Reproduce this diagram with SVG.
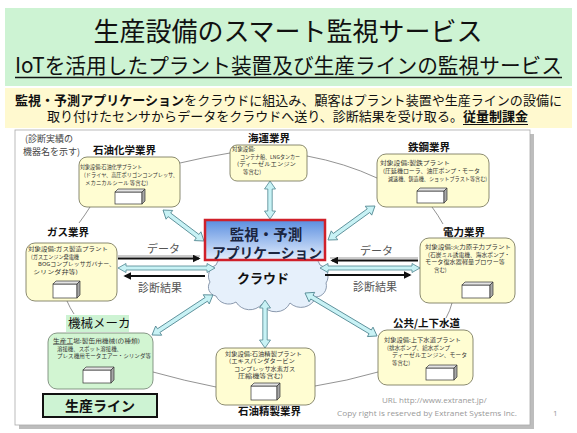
<svg xmlns="http://www.w3.org/2000/svg" width="577" height="433" viewBox="0 0 577 433">
<defs>
<style>
text{font-family:"Noto Sans CJK JP","Noto Sans",sans-serif}
.box{fill:#fffdd2;stroke:#6d6d50;stroke-width:0.8}
.gbox{fill:#d2f5d2;stroke:#6d7d6d;stroke-width:0.8}
.s{font-size:5.4px;fill:#333}
.lbl{font-size:10.5px;font-weight:bold;fill:#111}
.arc{fill:none;stroke:#777;stroke-width:0.8}
.dbl{fill:#c8f2f5;stroke:#4f8590;stroke-width:0.8}
.blk{stroke:#111;stroke-width:2;fill:none}
.shd{stroke:#999;stroke-width:1;fill:none}
.cf{fill:#fff;stroke:#333;stroke-width:0.7}
.ct{fill:#e4e4e4;stroke:#333;stroke-width:0.7}
.cs{fill:#a8a8a8;stroke:#333;stroke-width:0.7}
.cap{font-size:11px;fill:#555}
.foot{font-family:"Open Sans","Liberation Sans",sans-serif;font-size:8px;fill:#999}
</style>
<linearGradient id="appg" x1="0" y1="0" x2="0" y2="1">
<stop offset="0" stop-color="#5a8ee0"/>
<stop offset="1" stop-color="#e4eefc"/>
</linearGradient>
<marker id="ah" viewBox="0 0 10 10" refX="8" refY="5" markerWidth="4" markerHeight="4" orient="auto" markerUnits="strokeWidth">
<path d="M0,0 L10,5 L0,10 z" fill="#111"/>
</marker>
</defs>

<g id="header">
<rect x="5" y="8" width="567" height="78" fill="#cdf3d3"/>
<text x="288" y="41" font-size="26" text-anchor="middle" fill="#111">生産設備のスマート監視サービス</text>
<text x="15" y="73" font-size="21" fill="#111" textLength="547" lengthAdjust="spacingAndGlyphs">IoTを活用したプラント装置及び生産ラインの監視サービス</text>
<line x1="15" y1="77.5" x2="562" y2="77.5" stroke="#111" stroke-width="1.5"/>
<rect x="5" y="88" width="567" height="40" fill="#fff9cf"/>
<text x="15" y="105" font-size="13" fill="#111" textLength="547" lengthAdjust="spacingAndGlyphs"><tspan font-weight="bold">監視・予測アプリケーション</tspan>をクラウドに組込み、顧客はプラント装置や生産ラインの設備に</text>
<text x="47" y="121" font-size="13" fill="#111" textLength="481" lengthAdjust="spacingAndGlyphs">取り付けたセンサからデータをクラウドへ送り、診断結果を受け取る。<tspan font-weight="bold">従量制課金</tspan></text>
<line x1="463" y1="124.5" x2="528" y2="124.5" stroke="#111" stroke-width="1"/>
</g>

<g id="frame">
<rect x="19" y="134" width="515" height="295" fill="#bdbdbd"/>
<rect x="15" y="130" width="515" height="295" fill="#fff" stroke="#aaa" stroke-width="0.8"/>
</g>

<g id="ring">
<path class="arc" d="M180,163 Q205,157 230,153"/>
<path class="arc" d="M307,156 Q345,163 377,178"/>
<path class="arc" d="M432,207 Q438,215 443,224"/>
<path class="arc" d="M452,303 Q450,311 446,318"/>
<path class="arc" d="M378,372 Q347,381 315,386"/>
<path class="arc" d="M153,372 Q185,381 216,387"/>
<path class="arc" d="M67,301 Q70,308 74,314"/>
<path class="arc" d="M90,207 Q85,215 79,223"/>
</g>

<g id="cloud">
<path d="M210,282 A12,12 0 0 1 216,265 A16,16 0 0 1 240,257 A18,18 0 0 1 268,254 A18,18 0 0 1 296,257 A16,16 0 0 1 320,265 A12,12 0 0 1 326,283 A11,11 0 0 1 316,297 A16,16 0 0 1 290,303 A16,16 0 0 1 262,304 A16,16 0 0 1 236,302 A14,14 0 0 1 216,296 A9,9 0 0 1 210,282 Z" fill="#e6f0fb" stroke="#7f8ea5" stroke-width="0.9"/>
<text x="263" y="283" font-size="13" font-weight="bold" text-anchor="middle" fill="#111">クラウド</text>
</g>

<g id="connectors">
<path class="dbl" transform="translate(163,210) rotate(37.1)" d="M0,0 L8,-5.5 L8,-2.2 L43.4,-2.2 L43.4,-5.5 L51.4,0 L43.4,5.5 L43.4,2.2 L8,2.2 L8,5.5 Z"/>
<path class="dbl" transform="translate(270,181) rotate(90)" d="M0,0 L8,-5.5 L8,-2.2 L30,-2.2 L30,-5.5 L38,0 L30,5.5 L30,2.2 L8,2.2 L8,5.5 Z"/>
<path class="dbl" transform="translate(328,240) rotate(-35.9)" d="M0,0 L8,-5.5 L8,-2.2 L50,-2.2 L50,-5.5 L58,0 L50,5.5 L50,2.2 L8,2.2 L8,5.5 Z"/>
<path class="dbl" transform="translate(152,335) rotate(-33.3)" d="M0,0 L8,-5.5 L8,-2.2 L64.9,-2.2 L64.9,-5.5 L72.9,0 L64.9,5.5 L64.9,2.2 L8,2.2 L8,5.5 Z"/>
<path class="dbl" transform="translate(265,300) rotate(90)" d="M0,0 L8,-5.5 L8,-2.2 L40,-2.2 L40,-5.5 L48,0 L40,5.5 L40,2.2 L8,2.2 L8,5.5 Z"/>
<path class="dbl" transform="translate(305,293) rotate(30.8)" d="M0,0 L8,-5.5 L8,-2.2 L75.9,-2.2 L75.9,-5.5 L83.9,0 L75.9,5.5 L75.9,2.2 L8,2.2 L8,5.5 Z"/>
<path class="dbl" transform="translate(118,268)" d="M0,0 L8,-4.5 L8,-2 L89,-2 L89,-4.5 L97,0 L89,4.5 L89,2 L8,2 L8,4.5 Z"/>
<path class="dbl" transform="translate(320,268)" d="M0,0 L8,-4.5 L8,-2 L92,-2 L92,-4.5 L100,0 L92,4.5 L92,2 L8,2 L8,4.5 Z"/>
<line class="shd" x1="118" y1="256" x2="200" y2="256"/>
<line class="blk" x1="118" y1="258.5" x2="199" y2="258.5" marker-end="url(#ah)"/>
<line class="blk" x1="205" y1="276" x2="125" y2="276" marker-end="url(#ah)"/>
<line class="shd" x1="418" y1="258" x2="330" y2="258"/>
<line class="blk" x1="418" y1="260.5" x2="332" y2="260.5" marker-end="url(#ah)"/>
<line class="blk" x1="325" y1="275" x2="410" y2="275" marker-end="url(#ah)"/>
<text class="cap" x="147" y="253">データ</text>
<text class="cap" x="138" y="292">診断結果</text>
<text class="cap" x="360" y="255">データ</text>
<text class="cap" x="353" y="291">診断結果</text>
</g>

<g id="app">
<rect x="205" y="220" width="120" height="40" fill="url(#appg)" stroke="#d0202a" stroke-width="2.5"/>
<text x="266" y="240" font-size="14.5" font-weight="bold" text-anchor="middle" fill="#1a2540">監視・予測</text>
<text x="212" y="257.5" font-size="14" font-weight="bold" fill="#1a2540" textLength="110" lengthAdjust="spacingAndGlyphs">アプリケーション</text>
</g>

<g id="note">
<text x="25" y="142" font-size="9" fill="#444">(診断実績の</text>
<text x="23" y="155" font-size="9" fill="#444">機器名を示す)</text>
</g>

<g id="petrochem">
<text class="lbl" x="93" y="154">石油化学業界</text>
<rect class="box" x="79" y="157" width="101" height="50" rx="8"/>
<text class="s" x="80" y="169" textLength="62" lengthAdjust="spacingAndGlyphs">対象設備:石油化学プラント</text>
<text class="s" x="84" y="177" textLength="94" lengthAdjust="spacingAndGlyphs">(ドライヤ、高圧ポリゴンコンプレッサ、</text>
<text class="s" x="85" y="184.5" textLength="63" lengthAdjust="spacingAndGlyphs">メカニカルシール 等含む)</text>
<rect class="cf" x="115" y="192" width="27" height="12"/>
<path class="ct" d="M115,192 L118,189 L145,189 L142,192 Z"/>
<path class="cs" d="M142,192 L145,189 L145,201 L142,204 Z"/>
</g>

<g id="shipping">
<text class="lbl" x="248" y="142">海運業界</text>
<rect class="box" x="230" y="145" width="77" height="36" rx="7"/>
<text class="s" x="232" y="151">対象設備:</text>
<text class="s" x="240" y="158.5" textLength="60" lengthAdjust="spacingAndGlyphs">コンテナ船、LNGタンカー</text>
<text class="s" x="237" y="166" textLength="59" lengthAdjust="spacingAndGlyphs">(ディーゼルエンジン</text>
<text class="s" x="243" y="174">等含む)</text>
</g>

<g id="steel">
<text class="lbl" x="408" y="151">鉄鋼業界</text>
<rect class="box" x="377" y="154" width="112" height="53" rx="9"/>
<text class="s" x="380" y="165" textLength="70" lengthAdjust="spacingAndGlyphs">対象設備:製鉄プラント</text>
<text class="s" x="383" y="173" textLength="97" lengthAdjust="spacingAndGlyphs">(圧延機ローラ、油圧ポンプ・モータ</text>
<text class="s" x="388" y="181" textLength="99" lengthAdjust="spacingAndGlyphs">減速機、鋳造機、ショットブラスト等含む)</text>
<rect class="cf" x="417" y="191" width="27" height="12"/>
<path class="ct" d="M417,191 L420,188 L447,188 L444,191 Z"/>
<path class="cs" d="M444,191 L447,188 L447,200 L444,203 Z"/>
</g>

<g id="gas">
<text class="lbl" x="47" y="236">ガス業界</text>
<rect class="box" x="26" y="243" width="91" height="58" rx="9"/>
<text class="s" x="28" y="251" textLength="80" lengthAdjust="spacingAndGlyphs">対象設備:ガス製造プラント</text>
<text class="s" x="31" y="258.5" textLength="48" lengthAdjust="spacingAndGlyphs">(ガスエンジン発電機</text>
<text class="s" x="38" y="266" textLength="77" lengthAdjust="spacingAndGlyphs">BOGコンプレッサガバナー、</text>
<text class="s" x="33" y="273.5" textLength="45" lengthAdjust="spacingAndGlyphs">シリンダ弁等)</text>
<rect class="cf" x="53" y="284" width="24" height="14"/>
<path class="ct" d="M53,284 L56,281 L80,281 L77,284 Z"/>
<path class="cs" d="M77,284 L80,281 L80,295 L77,298 Z"/>
</g>

<g id="power">
<text class="lbl" x="443" y="236">電力業界</text>
<rect class="box" x="420" y="238" width="95" height="65" rx="9"/>
<text class="s" x="425" y="249" textLength="86" lengthAdjust="spacingAndGlyphs">対象設備:火力原子力プラント</text>
<text class="s" x="428" y="256.5" textLength="82" lengthAdjust="spacingAndGlyphs">(石炭ミル誘電機、海水ポンプ・</text>
<text class="s" x="425" y="264" textLength="80" lengthAdjust="spacingAndGlyphs">モータ復水器軽量ブロワー等</text>
<text class="s" x="434" y="271.5">含む)</text>
<rect class="cf" x="462" y="285" width="28" height="13"/>
<path class="ct" d="M462,285 L465,282 L493,282 L490,285 Z"/>
<path class="cs" d="M490,285 L493,282 L493,295 L490,298 Z"/>
</g>

<g id="water">
<text class="lbl" x="393" y="327">公共/上下水道</text>
<rect class="box" x="378" y="330" width="95" height="55" rx="9"/>
<text class="s" x="384" y="342" textLength="77" lengthAdjust="spacingAndGlyphs">対象設備:上下水道プラント</text>
<text class="s" x="387" y="349.5" textLength="63" lengthAdjust="spacingAndGlyphs">(排水ポンプ、給水ポンプ</text>
<text class="s" x="392" y="357" textLength="75" lengthAdjust="spacingAndGlyphs">ディーゼルエンジン、モータ</text>
<text class="s" x="392" y="364.5">等含む)</text>
<rect class="cf" x="426" y="368" width="28" height="12"/>
<path class="ct" d="M426,368 L429,365 L457,365 L454,368 Z"/>
<path class="cs" d="M454,368 L457,365 L457,377 L454,380 Z"/>
</g>

<g id="refining">
<rect class="box" x="216" y="348" width="99" height="57" rx="9"/>
<text class="s" x="225" y="355.5" textLength="77" lengthAdjust="spacingAndGlyphs">対象設備:石油精製プラント</text>
<text class="s" x="229" y="363" textLength="66" lengthAdjust="spacingAndGlyphs">(エキスパンダタービン</text>
<text class="s" x="234" y="370.5" textLength="61" lengthAdjust="spacingAndGlyphs">コンプレッサ水素ガス</text>
<text class="s" x="238" y="378" textLength="45" lengthAdjust="spacingAndGlyphs">圧縮機等含む)</text>
<rect class="cf" x="251" y="386" width="26" height="14"/>
<path class="ct" d="M251,386 L254,383 L280,383 L277,386 Z"/>
<path class="cs" d="M277,386 L280,383 L280,397 L277,400 Z"/>
<text class="lbl" x="238" y="415">石油精製業界</text>
</g>

<g id="machinery">
<rect x="66" y="315" width="63" height="17" fill="#cdf3d3"/>
<text x="68" y="328" font-size="12.5" fill="#111">機械メーカ</text>
<rect class="gbox" x="48" y="333" width="105" height="56" rx="9"/>
<text class="s" x="53" y="343" textLength="87" lengthAdjust="spacingAndGlyphs">生産工場:製缶用機械(の種類)</text>
<line x1="53" y1="344.5" x2="73" y2="344.5" stroke="#333" stroke-width="0.5"/>
<text class="s" x="57" y="350.5" textLength="65" lengthAdjust="spacingAndGlyphs">溶接機、スポット溶接機、</text>
<text class="s" x="57" y="358" textLength="94" lengthAdjust="spacingAndGlyphs">プレス機用モータエアー・シリンダ等</text>
<rect class="cf" x="83" y="370" width="28" height="13"/>
<path class="ct" d="M83,370 L86,367 L114,367 L111,370 Z"/>
<path class="cs" d="M111,370 L114,367 L114,380 L111,383 Z"/>
</g>

<g id="line">
<rect x="43" y="394" width="114" height="23" fill="#cdf3d3" stroke="#111" stroke-width="2"/>
<text x="100" y="411" font-size="14" font-weight="bold" text-anchor="middle" fill="#111">生産ライン</text>
</g>

<g id="footer">
<text class="foot" x="382" y="403">URL  http://www.extranet.jp/</text>
<text class="foot" x="337" y="416" textLength="180" lengthAdjust="spacingAndGlyphs">Copy right is reserved by Extranet Systems Inc.</text>
<text class="foot" x="553" y="416">1</text>
</g>
</svg>
